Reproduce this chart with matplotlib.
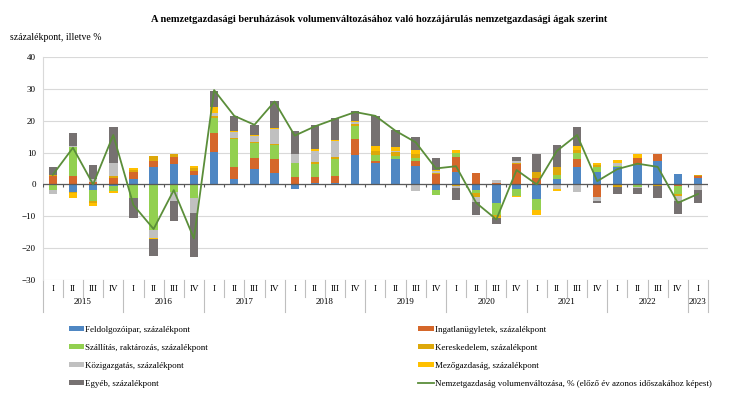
import matplotlib.pyplot as plt
import numpy as np
from matplotlib.transforms import blended_transform_factory

plt.rcParams['font.family'] = ['Liberation Serif', 'DejaVu Serif']

quarters = ['I', 'II', 'III', 'IV'] * 8 + ['I']
years = ['2015', '2016', '2017', '2018', '2019', '2020', '2021', '2022', '2023']

# contributions, percentage points (2015 I .. 2023 I)
feldolgozoipar = [0, -2.3, -1.8, -0.5, 1.7, 5.3, 6.3, 2.8,
                  10.3, 1.6, 4.7, 3.7, -1.5, 0.3, 0.5, 9.1,
                  6.6, 7.9, 5.8, -1.8, 4.0, -1.8, -5.8, -1.6,
                  -4.7, 1.6, 5.6, 4.0, 5.4, 6.1, 7.2, 3.3, 2.1]
ingatlan = [2.5, 2.6, 0.8, 2.1, 2.2, 1.9, 2.2, 1.5,
            5.8, 4.0, 3.5, 4.2, 2.4, 2.1, 2.2, 5.2,
            0.7, 0, 1.6, 3.3, 4.5, 3.7, 0.5, 6.4,
            2.1, 0, 2.4, -3.9, 0, 2.3, 2.4, -0.5, 0.5]
szallitas = [-1.8, 9.0, -3.4, -1.5, -4.2, -14.4, -2.3, -4.2,
             4.7, 8.6, 4.9, 4.5, 4.2, 3.9, 5.3, 4.0,
             1.8, 1.0, 1.0, -1.6, 1.3, -0.8, -3.9, -2.0,
             -3.2, 1.4, 1.8, 1.4, 0.4, -0.7, 0, -2.5, -0.2]
kereskedelem = [0.3, -0.5, -0.5, 0.5, 0.6, 1.6, 1.1, 0.7,
                0.8, 0.3, 0.3, 0.3, 0.2, 0.6, 0.5, 0.8,
                1.5, 1.3, 1.2, 0.4, -0.5, -1.3, -0.5, 0.4,
                1.7, 2.4, 1.1, 0.7, -0.7, 0, -0.5, -0.8, 0.3]
kozigazgatas = [-1.2, 0.5, 1.0, 4.2, 0, -2.3, -2.8, -4.9,
                0.7, 1.8, 1.8, 4.7, 2.7, 3.6, 5.1, 0.4,
                0, 0.4, -2.0, 0.6, -0.7, -1.6, 0.8, 0.6,
                -0.2, -1.3, -2.3, -1.3, 0.8, -0.5, 0, -1.3, -1.6]
mezogazdasag = [0, -1.5, -1.0, -0.8, 0.6, -0.5, 0, 0.8,
                1.9, 0.5, 0.3, 0.4, 0, 0.7, 0.4, 0.5,
                1.5, 1.0, 1.3, 0.2, 1.0, 0, -0.3, -0.5,
                -1.6, -0.8, 1.3, 0.5, 1.1, 1.1, 0, 0, 0]
egyeb = [2.8, 3.9, 4.4, 11.3, -6.3, -5.4, -6.4, -13.7,
         5.2, 4.7, 3.2, 8.4, 7.1, 7.3, 6.8, 2.9,
         9.5, 5.5, 4.0, 3.7, -3.7, -4.0, -1.8, 1.1,
         5.8, 7.1, 5.9, -0.6, -2.3, -1.8, -3.7, -4.2, -3.9]
# total investment volume change, %
osszesen = [3.0, 11.5, 0.0, 15.5, -6.5, -14.0, -1.8, -17.0,
            29.6, 21.5, 18.7, 26.0, 15.3, 18.2, 20.5, 22.7,
            21.5, 16.8, 13.2, 5.0, 5.7, -5.8, -11.0, 4.5,
            0.0, 10.5, 15.5, 1.0, 4.8, 6.5, 5.5, -5.8, -3.0]

series = [
    (feldolgozoipar, '#4F87C3', 'Feldolgozóipar, százalékpont'),
    (ingatlan, '#D5672A', 'Ingatlanügyletek, százalékpont'),
    (szallitas, '#92D050', 'Szállítás, raktározás, százalékpont'),
    (kereskedelem, '#DDA80A', 'Kereskedelem, százalékpont'),
    (kozigazgatas, '#C0C0C0', 'Közigazgatás, százalékpont'),
    (mezogazdasag, '#FFC000', 'Mezőgazdaság, százalékpont'),
    (egyeb, '#767171', 'Egyéb, százalékpont'),
]

fig = plt.figure(figsize=(7.30, 3.98), dpi=100)
ax = fig.add_axes([0.0585, 0.2965, 0.9115, 0.5605])

x = np.arange(len(quarters))
pos_base = np.zeros(len(x))
neg_base = np.zeros(len(x))
handles = []
for vals, col, lab in series:
    v = np.array(vals, dtype=float)
    base = np.where(v >= 0, pos_base, neg_base)
    b = ax.bar(x, v, width=0.42, bottom=base, color=col, label=lab,
               edgecolor='none', zorder=3)
    handles.append(b)
    pos_base += np.where(v >= 0, v, 0)
    neg_base += np.where(v < 0, v, 0)

line, = ax.plot(x, osszesen, color='#5B8E3A', lw=1.3, zorder=4,
                label='Nemzetgazdaság volumenváltozása, % (előző év azonos időszakához képest)')

ax.set_xlim(-0.5, len(x) - 0.5)
ax.set_ylim(-30, 40)
ax.set_yticks(range(-30, 41, 10))
ax.yaxis.grid(True, color='#D9D9D9', lw=0.8, zorder=0)
ax.axhline(0, color='#595959', lw=0.9, zorder=3)
ax.vlines(np.arange(len(x) + 1) - 0.5, -0.8, 0, color='#595959', lw=0.8, zorder=3)
ax.tick_params(axis='y', length=0, labelsize=6.5, pad=5)
ax.set_xticks([])
for s in ['top', 'right', 'bottom']:
    ax.spines[s].set_visible(False)
ax.spines['left'].set_color('#D9D9D9')

# category axis: quarters and years
tr = blended_transform_factory(ax.transData, ax.transAxes)
for i, q in enumerate(quarters):
    ax.text(i, -0.04, q, transform=tr, ha='center', va='center', fontsize=6.5)
for k in range(len(x) + 1):
    long_line = (k % 4 == 0) or k == len(x)
    ax.plot([k - 0.5, k - 0.5], [0, -0.145 if long_line else -0.075],
            transform=tr, color='#BFBFBF', lw=0.8, clip_on=False)
for j, yr in enumerate(years):
    start = j * 4
    end = min(start + 4, len(x))
    ax.text((start + end - 1) / 2, -0.1, yr, transform=tr, ha='center',
            va='center', fontsize=6.5)

fig.text(0.52, 0.952, 'A nemzetgazdasági beruházások volumenváltozásához való hozzájárulás nemzetgazdasági ágak szerint',
         ha='center', va='center', fontsize=7.5, fontweight='bold')
fig.text(0.014, 0.905, 'százalékpont, illetve %', ha='left', va='center', fontsize=7)

leg_kw = dict(frameon=False, fontsize=6.5, handlelength=1.7, handleheight=0.45,
              handletextpad=0.15, labelspacing=1.12, borderpad=0)
fig.legend([handles[0], handles[2], handles[4], handles[6]],
           [series[0][2], series[2][2], series[4][2], series[6][2]],
           loc='upper left', bbox_to_anchor=(0.088, 0.193), **leg_kw)
fig.legend([handles[1], handles[3], handles[5], line],
           [series[1][2], series[3][2], series[5][2], line.get_label()],
           loc='upper left', bbox_to_anchor=(0.567, 0.193), **leg_kw)

fig.savefig('out.png', dpi=100)
